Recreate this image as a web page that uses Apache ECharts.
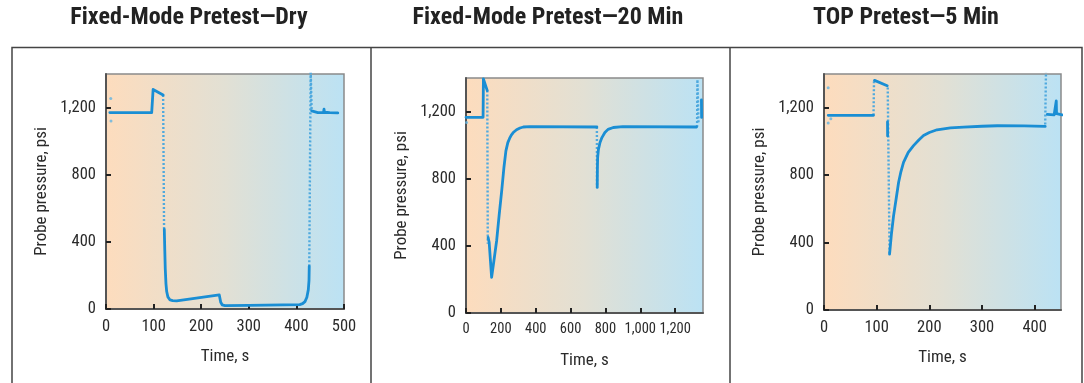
<!DOCTYPE html>
<html>
<head>
<meta charset="utf-8">
<script src="https://cdn.jsdelivr.net/npm/echarts@6/dist/echarts.min.js"></script>
<style>
html, body { margin: 0; padding: 0; background: #fff; }
#chart { width: 1084px; height: 383px; }
</style>
</head>
<body>
<div id="chart"></div>
<script>
var titles = ['Fixed-Mode Pretest\u2014Dry', 'Fixed-Mode Pretest\u201420 Min', 'TOP Pretest\u20145 Min'];
var xMax = [500, 1360, 450];
var yTicks = [0, 400, 800, 1200];

// Fixed-mode, dry  (null = break in the trace)
var dryLineT = [8, 96, 99, 120, null, 122.5, 123.5, 124.5, 126, 127.5, 130, 134.5, 140, 148.5, 238, 240, 241, 244, 250, 300, 407, 413, 418, 422, 425, 426.5, 427, null, 432, 436, 445, 457, 458, 459, 470, 487];
var dryLineP = [1170, 1170, 1308, 1275, null, 474, 350, 240, 150, 104, 72, 54, 50, 48, 84, 78, 40, 25, 20, 22, 26, 32, 44, 70, 114, 170, 254, null, 1180, 1172, 1170, 1170, 1190, 1172, 1170, 1168];
var dryDotT = [120, 122, null, 427, 430, 432];
var dryDotP = [1275, 474, null, 254, 1420, 1180];
var dryStrayT = [10, 10.5];
var dryStrayP = [1254, 1120];

// Fixed-mode, 20 min
var m20LineT = [0, 98, 100, 122, null, 127, 131, 133, 147, 160, 176, 190, 205, 218, 229, 240, 250, 260, 271, 290, 310, 329, 367, 751, null, 753, 754, 755.5, 760, 769, 780, 797, 815, 845, 900, 1323, null, 1351, 1352];
var m20LineP = [1166, 1166, 1395, 1325, null, 450, 450, 420, 212, 310, 432, 580, 729, 870, 966, 1015, 1040, 1060, 1075, 1092, 1102, 1108, 1110, 1108, null, 748, 860, 927, 975, 1016, 1045, 1075, 1094, 1105, 1110, 1108, null, 1270, 1165];
var m20DotT = [122, 125, null, 751, 752, null, 1326, 1328, 1334];
var m20DotP = [1325, 412, null, 1108, 748, null, 1108, 1390, 1130];
var m20StrayT = [3];
var m20StrayP = [1135];

// TOP, 5 min
var topLineT = [8, 94, null, 96, 120, null, 120.6, 120.8, null, 124.5, 128, 132, 137, 141.6, 146, 151, 160, 170, 180, 189, 200, 214.6, 240, 265, 300, 329, 380, 420, null, 424, 437, 440, 441, 441.5, 452];
var topLineP = [1155, 1155, null, 1362, 1330, null, 1116, 1033, null, 332, 450, 557, 660, 756, 820, 876, 935, 975, 1008, 1035, 1053, 1069, 1080, 1085, 1090, 1093, 1092, 1089, null, 1160, 1158, 1165, 1240, 1165, 1158];
var topDotT = [94, 95, null, 121, 124.5, null, 420, 421.5];
var topDotP = [1155, 1362, null, 1320, 332, null, 1100, 1420];
var topStrayT = [8, 8, 13];
var topStrayP = [1318, 1109, 1134];

var FONT = "'Liberation Sans Narrow', 'Roboto Condensed', 'DejaVu Sans Condensed', 'Arial Narrow', sans-serif";

function pairs(t, p) {
    return t.map(function (v, i) {
        return v === null ? ['-', '-'] : [v, p[i]];
    });
}
function comma(v) {
    return Number(v).toLocaleString('en-US');
}

var grids = [
    { left: 106, top: 74, width: 238, height: 235 },
    { left: 466, top: 78, width: 237, height: 235 },
    { left: 824, top: 74, width: 237, height: 236 }
];

var lines = [pairs(dryLineT, dryLineP), pairs(m20LineT, m20LineP), pairs(topLineT, topLineP)];
var dots = [pairs(dryDotT, dryDotP), pairs(m20DotT, m20DotP), pairs(topDotT, topDotP)];
var strays = [pairs(dryStrayT, dryStrayP), pairs(m20StrayT, m20StrayP), pairs(topStrayT, topStrayP)];
var xInterval = [100, 200, 100];

var chart = echarts.init(document.getElementById('chart'));

var option = {
    animation: false,
    grid: grids.map(function (g) {
        return Object.assign({
            show: true,
            borderColor: '#8a8a8a',
            borderWidth: 1.5,
            backgroundColor: new echarts.graphic.LinearGradient(0, 0, 1, 0, [
                { offset: 0, color: '#fddcbd' },
                { offset: 0.5, color: '#e2e0d4' },
                { offset: 1, color: '#bbe2f4' }
            ])
        }, g);
    }),
    xAxis: grids.map(function (g, i) {
        return {
            type: 'value',
            gridIndex: i,
            min: 0,
            max: xMax[i],
            interval: xInterval[i],
            name: 'Time, s',
            nameLocation: 'middle',
            nameGap: 39,
            nameTextStyle: { fontFamily: FONT, fontSize: 17, color: '#2a2a2a' },
            axisLine: { show: true, lineStyle: { color: '#555', width: 2 } },
            axisTick: { show: true, inside: true, length: 5, lineStyle: { color: '#222', width: 2 } },
            axisLabel: {
                fontFamily: FONT, fontSize: i === 1 ? 14.5 : 16.5, color: '#2a2a2a', margin: 9,
                showMaxLabel: i === 0,
                hideOverlap: false,
                formatter: comma
            },
            splitLine: { show: false }
        };
    }),
    yAxis: grids.map(function (g, i) {
        return {
            type: 'value',
            gridIndex: i,
            min: 0,
            max: 1400,
            interval: 400,
            name: 'Probe pressure, psi',
            nameLocation: 'middle',
            nameGap: 56,
            nameTextStyle: { fontFamily: FONT, fontSize: 17, color: '#2a2a2a' },
            axisLine: { show: true, lineStyle: { color: '#555', width: 2 } },
            axisTick: { show: true, inside: true, length: 5, lineStyle: { color: '#222', width: 2 } },
            axisLabel: {
                fontFamily: FONT, fontSize: 16.5, color: '#2a2a2a', margin: 10,
                showMaxLabel: false,
                formatter: function (v) { return yTicks.indexOf(v) >= 0 ? comma(v) : ''; }
            },
            splitLine: { show: false }
        };
    }),
    series: [],
    graphic: []
};

for (var i = 0; i < 3; i++) {
    option.series.push({
        type: 'line',
        xAxisIndex: i, yAxisIndex: i,
        data: dots[i],
        symbol: 'none',
        connectNulls: false,
        lineStyle: { color: '#4fa9de', width: 2.4, type: [2, 2] },
        clip: true
    });
    option.series.push({
        type: 'line',
        xAxisIndex: i, yAxisIndex: i,
        data: lines[i],
        symbol: 'none',
        connectNulls: false,
        lineStyle: { color: '#1a8ed4', width: 2.8, join: 'round', cap: 'round' },
        clip: true
    });
    option.series.push({
        type: 'scatter',
        xAxisIndex: i, yAxisIndex: i,
        data: strays[i],
        symbolSize: 3,
        itemStyle: { color: '#62b4e2' }
    });
}

// panel titles
var titleX = [189, 548, 906];
titles.forEach(function (t, i) {
    option.graphic.push({
        type: 'text',
        x: titleX[i], y: 18,
        style: {
            text: t, align: 'center', verticalAlign: 'middle',
            fontFamily: FONT, fontSize: 24, fontWeight: 'bold', fill: '#222'
        }
    });
});

// panel frames
option.graphic.push({
    type: 'polyline',
    shape: { points: [[12, 383], [12, 47.5], [1082, 47.5], [1082, 383]] },
    style: { stroke: '#444', lineWidth: 1.5, fill: null }
});
[371, 730].forEach(function (x) {
    option.graphic.push({
        type: 'line',
        shape: { x1: x, y1: 47.5, x2: x, y2: 383 },
        style: { stroke: '#444', lineWidth: 1.5 }
    });
});

chart.setOption(option);
</script>
</body>
</html>
